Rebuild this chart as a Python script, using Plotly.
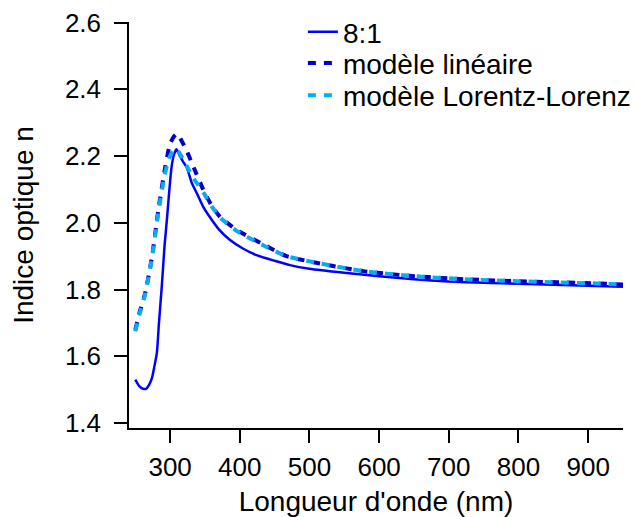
import plotly.graph_objects as go

# Measured series: 8:1
x_exp = [250, 256, 262, 266, 270, 274, 277, 281, 284, 288, 292, 295, 299, 302, 305, 309,
         313, 318, 324, 331, 338, 347, 357, 370, 386, 405, 424, 450, 472, 500, 550, 600,
         650, 700, 750, 800, 850, 900, 950]
n_exp = [1.530, 1.510, 1.502, 1.503, 1.515, 1.535, 1.565, 1.610, 1.700, 1.808, 1.930, 2.000,
         2.100, 2.165, 2.200, 2.220, 2.205, 2.185, 2.165, 2.120, 2.090, 2.050, 2.017, 1.980,
         1.948, 1.922, 1.903, 1.886, 1.873, 1.862, 1.850, 1.840, 1.831, 1.824, 1.820, 1.817,
         1.814, 1.811, 1.808]

# Linear model
x_lin = [250, 256, 264, 274, 283, 293, 300, 306, 310, 318, 324, 333, 348, 360, 372, 396,
         434, 467, 515, 577, 650, 730, 800, 912, 950]
n_lin = [1.679, 1.730, 1.788, 1.898, 2.037, 2.167, 2.237, 2.260, 2.267, 2.240, 2.215, 2.170,
         2.097, 2.050, 2.017, 1.978, 1.935, 1.900, 1.878, 1.855, 1.840, 1.830, 1.825, 1.818,
         1.815]

# Lorentz-Lorenz model
x_ll = [250, 256, 264, 274, 283, 292, 298, 304, 309, 316, 324, 333, 348, 360, 372, 396,
        434, 467, 515, 577, 650, 730, 800, 912, 950]
n_ll = [1.675, 1.725, 1.785, 1.895, 2.030, 2.140, 2.190, 2.215, 2.222, 2.200, 2.170, 2.135,
        2.090, 2.048, 2.015, 1.975, 1.932, 1.900, 1.878, 1.855, 1.840, 1.830, 1.825, 1.818,
        1.815]

names = ["8:1", "modèle linéaire", "modèle Lorentz-Lorenz"]
x_ticks = [300, 400, 500, 600, 700, 800, 900]
y_ticks = [1.4, 1.6, 1.8, 2.0, 2.2, 2.4, 2.6]

FONT = "Liberation Sans, Arial, sans-serif"

fig = go.Figure()
fig.add_trace(go.Scatter(x=x_exp, y=n_exp, mode="lines", name=names[0], legend="legend",
                         line=dict(color="#0000FF", width=2.5, shape="spline", smoothing=0.6)))
fig.add_trace(go.Scatter(x=x_lin, y=n_lin, mode="lines", name=names[1], legend="legend2",
                         line=dict(color="#0000C8", width=4, dash="8px,8px",
                                   shape="spline", smoothing=0.6)))
fig.add_trace(go.Scatter(x=x_ll, y=n_ll, mode="lines", name=names[2], legend="legend3",
                         line=dict(color="#0AAAF5", width=4, dash="8px,8px",
                                   shape="spline", smoothing=0.6)))

axis_common = dict(showline=True, linecolor="black", linewidth=1.5, ticks="outside",
                   ticklen=13, tickwidth=1.5, tickcolor="black", showgrid=False,
                   zeroline=False, mirror=False, automargin=False,
                   ticklabeloverflow="allow",
                   tickfont=dict(family=FONT, size=26, color="black"))


def leg(y):
    return dict(x=0.352, y=y, xanchor="left", yanchor="middle",
                bgcolor="rgba(0,0,0,0)", borderwidth=0,
                font=dict(family=FONT, size=28, color="black"), itemwidth=30)


# The page body has an 8px default margin, so the figure is sized to fit the window.
fig.update_layout(
    width=630, height=509,
    margin=dict(l=121, r=15, t=14, b=89, autoexpand=False),
    paper_bgcolor="white", plot_bgcolor="white",
    font=dict(family=FONT, size=26, color="black"),
    xaxis=dict(range=[241, 950], tickvals=x_ticks, ticktext=[str(v) for v in x_ticks],
               ticklabelstandoff=2,
               title=dict(text="Longueur d'onde (nm)", font=dict(family=FONT, size=28),
                          standoff=12),
               **axis_common),
    yaxis=dict(range=[1.385, 2.6015], tickvals=y_ticks,
               ticktext=[f"{v:.1f}" for v in y_ticks],
               ticklabelstandoff=8,
               title=dict(text="Indice optique n", font=dict(family=FONT, size=28),
                          standoff=24),
               **axis_common),
    legend=leg(0.975),
    legend2=leg(0.898),
    legend3=leg(0.819),
    showlegend=True,
)

fig.write_html("out.html")
